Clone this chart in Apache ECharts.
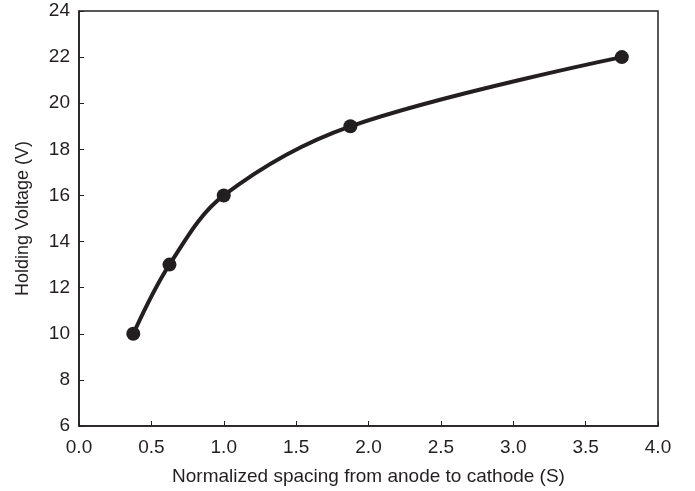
<!DOCTYPE html>
<html>
<head>
<meta charset="utf-8">
<script src="https://cdn.jsdelivr.net/npm/echarts@6/dist/echarts.min.js"></script>
<style>
  html, body { margin: 0; padding: 0; background: #fff; }
  #chart { width: 695px; height: 491px; }
</style>
</head>
<body>
<div id="chart"></div>
<script>
const spacing = [0.375, 0.625, 1.0, 1.875, 3.75];
const holdingVoltage = [10, 13, 16, 19, 22];

const chart = echarts.init(document.getElementById('chart'));

const fontFamily = 'Liberation Sans, Arial, sans-serif';
const axisText = { color: '#231f20', fontSize: 19, fontFamily: fontFamily };

const option = {
  animation: false,
  grid: {
    left: 79,
    right: 37,
    top: 11,
    bottom: 64,
    show: true,
    borderColor: '#231f20',
    borderWidth: 1.5
  },
  xAxis: {
    type: 'value',
    min: 0,
    max: 4,
    interval: 0.5,
    name: 'Normalized spacing from anode to cathode (S)',
    nameLocation: 'middle',
    nameGap: 41,
    nameTextStyle: { color: '#231f20', fontSize: 19, fontFamily: fontFamily },
    axisLine: { lineStyle: { color: '#231f20', width: 1.5 } },
    axisTick: { inside: true, length: 5, lineStyle: { color: '#231f20' } },
    axisLabel: Object.assign({ margin: 12, formatter: (v) => v.toFixed(1) }, axisText),
    splitLine: { show: false }
  },
  yAxis: {
    type: 'value',
    min: 6,
    max: 24,
    interval: 2,
    name: 'Holding Voltage (V)',
    nameLocation: 'middle',
    nameGap: 47,
    nameTextStyle: { color: '#231f20', fontSize: 18, fontFamily: fontFamily },
    axisLine: { lineStyle: { color: '#231f20', width: 1.5 } },
    axisTick: { inside: true, length: 5, lineStyle: { color: '#231f20' } },
    axisLabel: Object.assign({ margin: 9 }, axisText),
    splitLine: { show: false }
  },
  series: [{
    type: 'line',
    data: spacing.map((x, i) => [x, holdingVoltage[i]]),
    smooth: 0.35,
    symbol: 'circle',
    symbolSize: 14,
    lineStyle: { color: '#231f20', width: 4 },
    itemStyle: { color: '#231f20' }
  }]
};

chart.setOption(option);
</script>
</body>
</html>
